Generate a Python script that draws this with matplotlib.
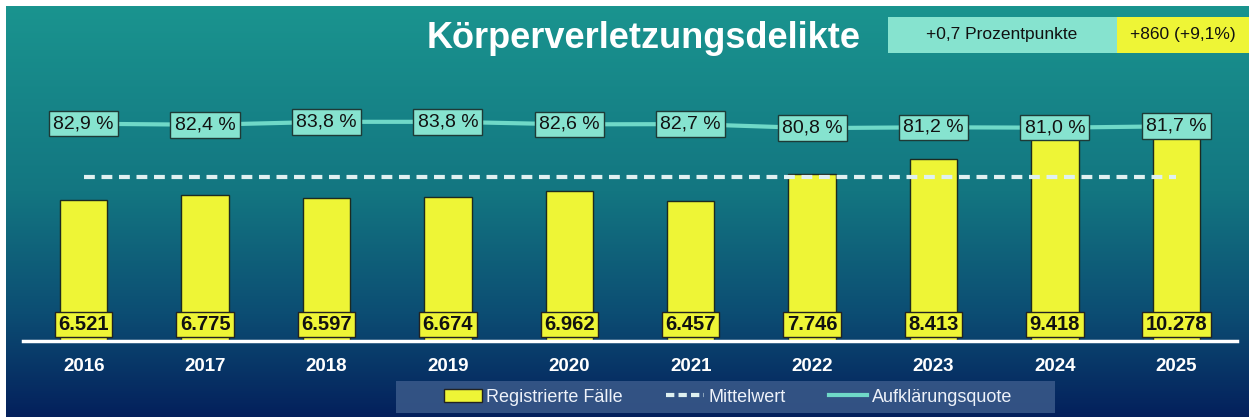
import numpy as np
import matplotlib.pyplot as plt
from matplotlib.colors import LinearSegmentedColormap

plt.rcParams['font.family'] = ['Liberation Sans', 'DejaVu Sans']

years = ['2016', '2017', '2018', '2019', '2020', '2021', '2022', '2023', '2024', '2025']
faelle = [6521, 6775, 6597, 6674, 6962, 6457, 7746, 8413, 9418, 10278]
quote = [82.9, 82.4, 83.8, 83.8, 82.6, 82.7, 80.8, 81.2, 81.0, 81.7]
title = 'Körperverletzungsdelikte'
diff_quote = '+0,7 Prozentpunkte'
diff_faelle = '+860 (+9,1%)'

W, H = 1249, 417
yellow = '#eef536'
aqua = '#86e3cf'
line_col = '#6fd9c8'

fig = plt.figure(figsize=(W / 100, H / 100), dpi=100)
fig.patch.set_facecolor('white')

# background gradient (teal -> navy)
bg = fig.add_axes([6 / W, 0, 1 - 6 / W, 1 - 6 / H])
cmap = LinearSegmentedColormap.from_list('bg', [(0, '#1a948f'), (0.45, '#137681'),
                                               (0.75, '#0c4d73'), (1, '#04205c')])
bg.imshow(np.linspace(0, 1, 256)[:, None], aspect='auto', cmap=cmap, extent=[0, 1, 0, 1])
bg.axis('off')

x = np.arange(len(years))
mean = np.mean(faelle)

ax = fig.add_axes([23 / W, (H - 341) / H, 1214 / W, 321 / H])
ax.patch.set_alpha(0)
ax.bar(x, faelle, width=0.39, color=yellow, edgecolor='#1c2a20', lw=1, zorder=2)
ax.plot(x, [mean] * len(x), ls=(0, (2.6, 1.6)), color='#dff0f0', lw=3, zorder=3)
ax.set_xlim(-0.5, 9.5)
ax.set_ylim(0, 14850)
ax.axhline(0, color='white', lw=2.5, zorder=4, clip_on=False)
for i, v in enumerate(faelle):
    ax.text(i, 760, f'{v:,}'.replace(',', '.'), ha='center', va='center', fontsize=14.5,
            fontweight='bold', color='#111111', zorder=5,
            bbox=dict(boxstyle='square,pad=0.17', fc=yellow, ec='#222222', lw=1))
ax.set_xticks(x, years, color='white', fontsize=13.5, fontweight='bold')
ax.tick_params(axis='x', length=0, pad=12)
ax.set_yticks([])
for s in ax.spines.values():
    s.set_visible(False)

ax2 = ax.twinx()
ax2.plot(x, quote, color=line_col, lw=3, zorder=2)
ax2.set_ylim(-20.6, 132.3)
for i, p in enumerate(quote):
    ax2.text(i, p, f'{p:.1f} %'.replace('.', ','), ha='center', va='center', fontsize=14,
             color='#111111', zorder=5,
             bbox=dict(boxstyle='square,pad=0.22', fc=aqua, ec='#1e3a36', lw=1))
ax2.set_yticks([])
for s in ax2.spines.values():
    s.set_visible(False)

fig.text(644 / W, 1 - 39 / H, title, ha='center', va='center', fontsize=26,
         fontweight='bold', color='white')

# change boxes top right
fig.patches.append(plt.Rectangle((888 / W, 1 - 53 / H), 229 / W, 36 / H, transform=fig.transFigure,
                                 fc=aqua, ec='none', zorder=1))
fig.patches.append(plt.Rectangle((1117 / W, 1 - 53 / H), 132 / W, 36 / H, transform=fig.transFigure,
                                 fc=yellow, ec='none', zorder=1))
fig.text(1002 / W, 1 - 35 / H, diff_quote, ha='center', va='center', fontsize=12.5, color='#111111')
fig.text(1183 / W, 1 - 35 / H, diff_faelle, ha='center', va='center', fontsize=12.5, color='#111111')

# legend with its own background panel
fig.patches.append(plt.Rectangle((396 / W, 4 / H), 659 / W, 32 / H, transform=fig.transFigure,
                                 fc='#3b5a8a', ec='none', alpha=0.85, zorder=1))
h1 = plt.Rectangle((0, 0), 1, 1, fc=yellow, ec='#222222', lw=1)
h2, = plt.plot([], [], ls=(0, (2, 1)), color='#dff0f0', lw=3)
h3, = plt.plot([], [], color=line_col, lw=3)
leg = fig.legend([h1, h2, h3], ['Registrierte Fälle', 'Mittelwert', 'Aufklärungsquote'],
                 loc='center', bbox_to_anchor=(728 / W, 20 / H), ncol=3, frameon=False,
                 fontsize=13, labelcolor='#eef2fa', handlelength=2.1, handletextpad=0.25,
                 columnspacing=2.4, borderpad=0, borderaxespad=0)

fig.savefig('out.png', dpi=100)
